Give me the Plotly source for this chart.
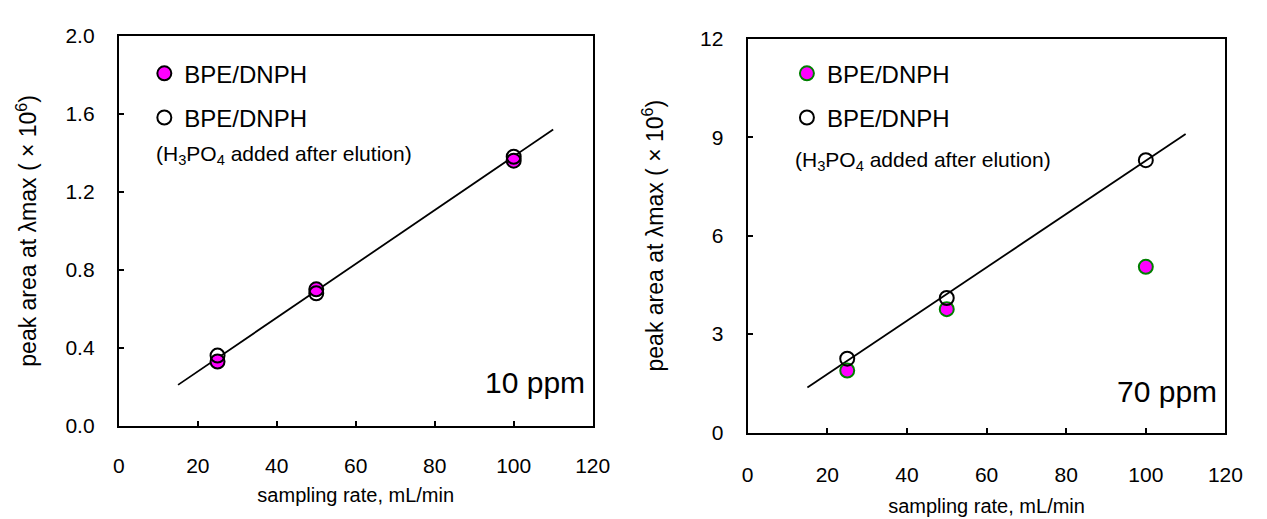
import plotly.graph_objects as go

# ---- data ----
x_rate = [25, 50, 100]
left_filled = [0.33, 0.70, 1.36]
left_open = [0.36, 0.68, 1.38]
right_filled = [1.89, 3.76, 5.05]
right_open = [2.25, 4.10, 8.30]
fit_x = [15, 110]
left_fit_y = [0.21, 1.52]
right_fit_y = [1.37, 9.10]
legend_label = "BPE/DNPH"
sub_label = "(H<sub>3</sub>PO<sub>4</sub> added after elution)"
conc_labels = ["10 ppm", "70 ppm"]
x_ticks = [0, 20, 40, 60, 80, 100, 120]
left_y_ticks = [0.0, 0.4, 0.8, 1.2, 1.6, 2.0]
right_y_ticks = [0, 3, 6, 9, 12]
x_title = "sampling rate, mL/min"
y_title = "peak area at λmax ( × 10<sup>6</sup>)"

FONT = "Arial, Liberation Sans, sans-serif"
W, H = 1267, 519

fig = go.Figure()

# left panel
fig.add_trace(go.Scatter(x=fit_x, y=left_fit_y, mode="lines", line=dict(color="black", width=1.8),
                         showlegend=False, xaxis="x", yaxis="y"))
fig.add_trace(go.Scatter(x=x_rate, y=left_filled, mode="markers", name=legend_label,
                         marker=dict(size=14, color="#FF00FF", line=dict(color="black", width=2)),
                         xaxis="x", yaxis="y", legend="legend", legendgroup="a"))
fig.add_trace(go.Scatter(x=x_rate, y=left_open, mode="markers", name=legend_label,
                         marker=dict(size=14, color="rgba(0,0,0,0)", line=dict(color="black", width=2)),
                         xaxis="x", yaxis="y", legend="legend", legendgroup="b"))

# right panel
fig.add_trace(go.Scatter(x=fit_x, y=right_fit_y, mode="lines", line=dict(color="black", width=1.8),
                         showlegend=False, xaxis="x2", yaxis="y2"))
fig.add_trace(go.Scatter(x=x_rate, y=right_filled, mode="markers", name=legend_label,
                         marker=dict(size=14, color="#FF00FF", line=dict(color="#008000", width=2)),
                         xaxis="x2", yaxis="y2", legend="legend2", legendgroup="c"))
fig.add_trace(go.Scatter(x=x_rate, y=right_open, mode="markers", name=legend_label,
                         marker=dict(size=14, color="rgba(0,0,0,0)", line=dict(color="black", width=2)),
                         xaxis="x2", yaxis="y2", legend="legend2", legendgroup="d"))

axis_common = dict(showline=True, linecolor="black", linewidth=2, mirror=True,
                   ticks="inside", ticklen=5, tickwidth=2, tickcolor="black",
                   showgrid=False, zeroline=False,
                   tickfont=dict(family=FONT, size=21, color="black"))

def px_x(p):
    return p / W

def px_y(p):
    return 1 - p / H

fig.update_layout(
    width=W, height=H,
    margin=dict(l=0, r=0, t=0, b=0),
    paper_bgcolor="white", plot_bgcolor="white",
    font=dict(family=FONT, color="black"),
    xaxis=dict(domain=[px_x(115), px_x(598)], range=[0, 120], tickvals=x_ticks,
               anchor="y", ticklabelstandoff=20,
               title=dict(text=x_title, font=dict(size=20), standoff=12), **axis_common),
    yaxis=dict(domain=[px_y(433), px_y(25)], range=[0, 2.0], tickvals=left_y_ticks,
               tickformat=".1f", anchor="x", ticklabelstandoff=18,
               title=dict(text=y_title, font=dict(size=23), standoff=22), **axis_common),
    xaxis2=dict(domain=[px_x(756), px_x(1243)], range=[0, 120], tickvals=x_ticks,
                anchor="y2", ticklabelstandoff=22,
                title=dict(text=x_title, font=dict(size=20), standoff=14), **axis_common),
    yaxis2=dict(domain=[px_y(440), px_y(28)], range=[0, 12], tickvals=right_y_ticks,
                anchor="x2", ticklabelstandoff=18,
                title=dict(text=y_title, font=dict(size=23), standoff=30), **axis_common),
    legend=dict(x=px_x(141), y=px_y(41), xanchor="left", yanchor="top",
                bgcolor="rgba(0,0,0,0)", font=dict(size=24), tracegroupgap=10,
                itemsizing="trace"),
    legend2=dict(x=px_x(796), y=px_y(41), xanchor="left", yanchor="top",
                 bgcolor="rgba(0,0,0,0)", font=dict(size=24), tracegroupgap=10,
                 itemsizing="trace"),
    annotations=[
        dict(text=sub_label, x=9, y=1.387, xref="x", yref="y", xanchor="left", yanchor="middle",
             showarrow=False, font=dict(size=21)),
        dict(text=sub_label, x=11.5, y=8.27, xref="x2", yref="y2", xanchor="left", yanchor="middle",
             showarrow=False, font=dict(size=21)),
        dict(text=conc_labels[0], x=118.5, y=0.22, xref="x", yref="y", xanchor="right", yanchor="middle",
             showarrow=False, font=dict(size=30)),
        dict(text=conc_labels[1], x=118.5, y=1.25, xref="x2", yref="y2", xanchor="right", yanchor="middle",
             showarrow=False, font=dict(size=30)),
    ],
)

fig.write_html("out.html")
